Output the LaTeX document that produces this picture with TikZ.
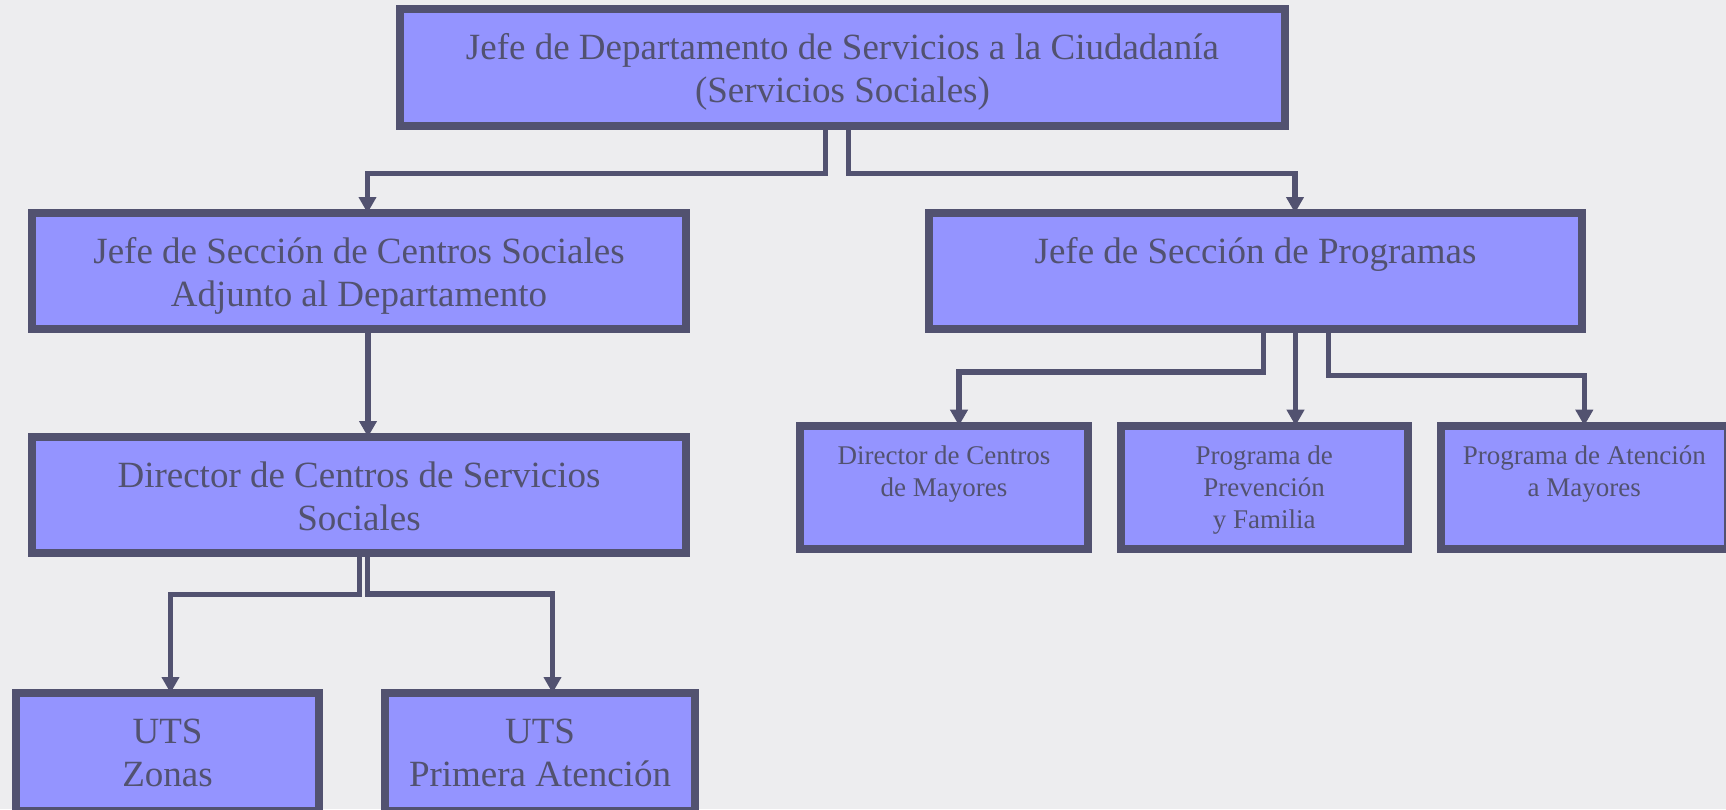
\documentclass[tikz,border=0pt]{standalone}
\usepackage{fontspec}
\setmainfont{Liberation Serif}
\usetikzlibrary{arrows.meta}
\definecolor{edgecol}{RGB}{82,82,112}
\definecolor{boxfill}{RGB}{148,148,255}
\definecolor{paper}{RGB}{237,237,239}
% box text, hung from the top of the box
\newcommand{\cajon}[4][50pt]{\parbox[c][#3][t]{#2}{\centering\rule{0pt}{#1}#4}}

\begin{document}
\begin{tikzpicture}
[x=1pt,y=-1pt,>={Triangle[length=16pt,width=17pt]},
unit/.style={rectangle,draw=edgecol,fill=boxfill,line width=8pt,inner sep=0pt,text=edgecol,font=\fontsize{37pt}{43pt}\selectfont},
subunit/.style={unit,font=\fontsize{27pt}{32pt}\selectfont},
link/.style={->,draw=edgecol,line width=5.5pt,shorten >=-4pt}]
\useasboundingbox (0,0) rectangle (1726,809);
\fill[paper] (0,0) rectangle (1726,809);

\node[unit] at (842.5,67.5) (jefe) {\cajon{885pt}{117pt}{Jefe de Departamento de Servicios a la Ciudadanía\\(Servicios Sociales)}};
\node[unit] at (359,271)    (centros) {\cajon{654pt}{116pt}{Jefe de Sección de Centros Sociales\\Adjunto al Departamento}};
\node[unit] at (1255.5,271) (programas) {\cajon{653pt}{116pt}{Jefe de Sección de Programas}};
\node[unit] at (359,495)    (director) {\cajon{654pt}{116pt}{Director de Centros de Servicios\\Sociales}};
\node[unit] at (167.5,752)  (zonas) {\cajon{303pt}{118pt}{UTS\\Zonas}};
\node[unit] at (540,752)    (primera) {\cajon{310pt}{118pt}{UTS\\Primera Atención}};

\node[subunit] at (944,487.2)    (mayores) {\cajon[39pt]{288pt}{123pt}{Director de Centros\\de Mayores}};
\node[subunit] at (1264.2,487.2) (prevencion) {\cajon[39pt]{287pt}{123pt}{Programa de\\Prevención\\y Familia}};
\node[subunit] at (1584.3,487.2) (atencion) {\cajon[39pt]{287pt}{123pt}{Programa de Atención\\a Mayores}};

\draw[link] ([xshift=-17pt]jefe.south) -- ++(0,43.5) -| ([xshift=8.5pt]centros.north);
\draw[link] ([xshift=6pt]jefe.south) -- ++(0,43.5) -| ([xshift=39.5pt]programas.north);
\draw[link] ([xshift=9pt]centros.south) -- ([xshift=9pt]director.north);
\draw[link] ([xshift=0.5pt]director.south) -- ++(0,37.5) -| ([xshift=3pt]zonas.north);
\draw[link] ([xshift=8.5pt]director.south) -- ++(0,37) -| ([xshift=12.5pt]primera.north);
\draw[link] ([xshift=8pt]programas.south) -- ++(0,39) -| ([xshift=15pt]mayores.north);
\draw[link] ([xshift=40pt]programas.south) -- ([xshift=40pt]programas.south |- prevencion.north);
\draw[link] ([xshift=73pt]programas.south) -- ++(0,42.5) -| (atencion.north);
\end{tikzpicture}
\end{document}
